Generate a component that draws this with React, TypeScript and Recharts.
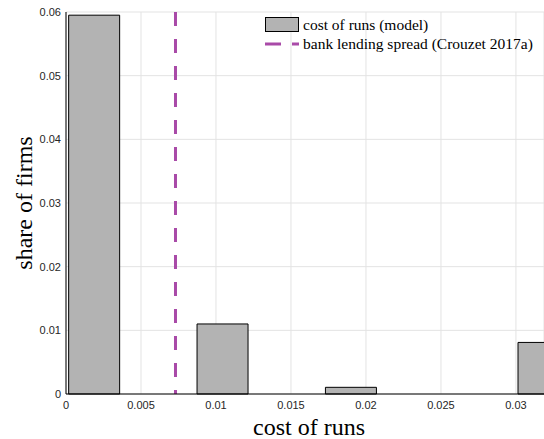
import {
  ComposedChart,
  Bar,
  XAxis,
  YAxis,
  CartesianGrid,
  ReferenceLine,
} from "recharts";

// histogram bin centres (cost of runs) and share of firms in each bin
const binCenters = [0.00185, 0.00613, 0.01041, 0.01469, 0.01897, 0.02325, 0.02753, 0.03181];
const shares = [0.0595, 0, 0.011, 0, 0.00105, 0, 0, 0.0081];
const xTicks = [0, 0.005, 0.01, 0.015, 0.02, 0.025, 0.03];
const yTicks = [0, 0.01, 0.02, 0.03, 0.04, 0.05, 0.06];
const spread = 0.0073; // bank lending spread (Crouzet 2017a)
const legendLabels = ["cost of runs (model)", "bank lending spread (Crouzet 2017a)"];

const data = binCenters.map((x, i) => ({ x, share: shares[i] }));

const PURPLE = "#a94aa8";
const serif = "'Liberation Serif', 'DejaVu Serif', serif";
const sans = "'Liberation Sans', Arial, sans-serif";

// Matlab-style legend, drawn on top of the plot area (no layout space taken)
const LegendBox = () => (
  <div
    style={{
      position: "absolute",
      left: 264,
      top: 15,
      fontFamily: serif,
      fontSize: 15.5,
      color: "#000",
      lineHeight: "19px",
    }}
  >
    <div style={{ display: "flex", alignItems: "center" }}>
      <svg width={39} height={19}>
        <rect x={1.5} y={2.5} width={33} height={14} fill="#b3b3b3" stroke="#000" strokeWidth={1} />
      </svg>
      <span>{legendLabels[0]}</span>
    </div>
    <div style={{ display: "flex", alignItems: "center" }}>
      <svg width={39} height={19}>
        <line x1={1} y1={10} x2={35} y2={10} stroke={PURPLE} strokeWidth={3} strokeDasharray="16 11" />
      </svg>
      <span>{legendLabels[1]}</span>
    </div>
  </div>
);

const YTitle = ({ viewBox }: any) => {
  const cx = 24;
  const cy = viewBox.y + viewBox.height / 2;
  return (
    <text
      x={cx}
      y={cy}
      transform={`rotate(-90 ${cx} ${cy})`}
      textAnchor="middle"
      dominantBaseline="central"
      fontFamily={serif}
      fontSize={24}
      fill="#000"
    >
      share of firms
    </text>
  );
};

const XTitle = ({ viewBox }: any) => (
  <text
    x={309}
    y={viewBox.y + 33}
    textAnchor="middle"
    dominantBaseline="central"
    fontFamily={serif}
    fontSize={24}
    fill="#000"
  >
    cost of runs
  </text>
);

export default function App() {
  return (
    <div style={{ position: "absolute", left: 0, top: 0, background: "#fff" }}>
      <ComposedChart
        width={544}
        height={439}
        data={data}
        margin={{ top: 12, right: 0, bottom: 0, left: 0 }}
      >
        <CartesianGrid stroke="#e3e3e3" strokeWidth={1} />
        <XAxis
          dataKey="x"
          type="number"
          domain={[0, 0.03187]}
          allowDataOverflow
          ticks={xTicks}
          tickFormatter={(v) => `${v}`}
          height={45}
          tick={{ fontSize: 11, fill: "#262626", fontFamily: sans }}
          tickSize={0}
          tickMargin={7}
          axisLine={{ stroke: "#000" }}
          label={<XTitle />}
        />
        <YAxis
          type="number"
          domain={[0, 0.06]}
          ticks={yTicks}
          tickFormatter={(v) => `${v}`}
          width={66}
          tick={{ fontSize: 11, fill: "#262626", fontFamily: sans }}
          tickSize={0}
          tickMargin={5}
          axisLine={{ stroke: "#000" }}
          label={<YTitle />}
        />
        <Bar
          dataKey="share"
          name={legendLabels[0]}
          fill="#b3b3b3"
          stroke="#000"
          strokeWidth={1}
          barSize={51}
          isAnimationActive={false}
        />
        {/* dash phase set so the pattern starts with a full dash at the x-axis */}
        <ReferenceLine
          x={spread}
          stroke={PURPLE}
          strokeWidth={3}
          strokeDasharray="14 13"
          strokeDashoffset={10}
        />
      </ComposedChart>
      <LegendBox />
    </div>
  );
}
